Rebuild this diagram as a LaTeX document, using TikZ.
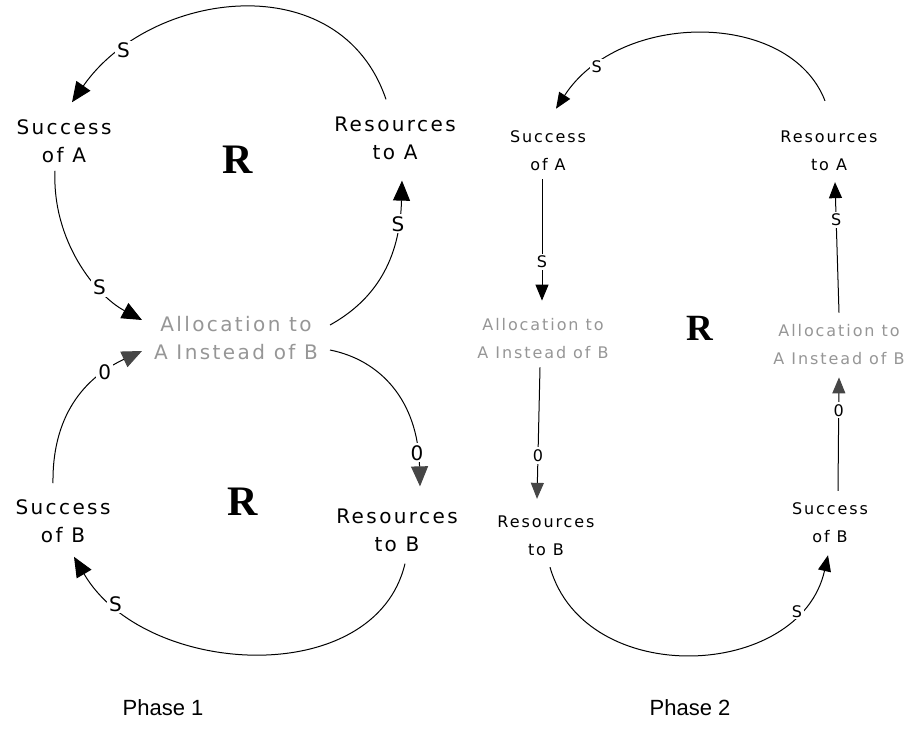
\documentclass[tikz,border=0pt]{standalone}
\usepackage{fontspec}
\usetikzlibrary{arrows.meta}
\newfontfamily\pixfont[LetterSpace=12]{DejaVu Sans}
\newfontfamily\capfont{Liberation Sans}
\newfontfamily\loopfont{Liberation Serif}
\definecolor{allocgray}{RGB}{150,150,150}
\definecolor{headgray}{RGB}{70,70,70}
\begin{document}
\begin{tikzpicture}[x=1pt,y=-1pt,
  var/.style={font=\pixfont\fontsize{20}{28}\selectfont, align=center, inner sep=0pt},
  alloc/.style={var, text=allocgray},
  varsm/.style={font=\pixfont\fontsize{16}{28}\selectfont, align=center, inner sep=0pt},
  allocsm/.style={varsm, text=allocgray},
  pol/.style={font=\pixfont\fontsize{20}{22}\selectfont, fill=white, inner sep=2pt},
  polsm/.style={font=\pixfont\fontsize{16}{18}\selectfont, fill=white, inner sep=2pt},
  loopmark/.style={font=\loopfont\bfseries\fontsize{42}{42}\selectfont, inner sep=0pt},
  loopmarksm/.style={font=\loopfont\bfseries\fontsize{37}{37}\selectfont, inner sep=0pt},
  phase/.style={font=\capfont\fontsize{22}{26}\selectfont, inner sep=0pt},
  link/.style={line width=1pt, -{Triangle[length=20pt,width=17pt]}},
  oplink/.style={line width=1pt, -{Triangle[length=20pt,width=17pt,color=headgray]}},
  linksm/.style={line width=1pt, -{Triangle[length=16pt,width=13pt]}},
  oplinksm/.style={line width=1pt, -{Triangle[length=16pt,width=13pt,color=headgray]}},
]
\useasboundingbox (0,0) rectangle (911,742);

% ---------------- Phase 1: two coupled loops ----------------
\node[var]   (sucA1)  at (64,141)  {Success\\of A};
\node[var]   (resA1)  at (395,138) {Resources\\to A};
\node[alloc] (alloc1) at (236,338) {Allocation to\\A Instead of B};
\node[var]   (sucB1)  at (63,521)  {Success\\of B};
\node[var]   (resB1)  at (397,530) {Resources\\to B};
\node[loopmark] (loopA1) at (238,160) {R};
\node[loopmark] (loopB1) at (243,502) {R};

\draw[link] ([xshift=-9pt,yshift=17pt]resA1.north)
  .. controls (340,-36) and (150,-10) .. ([xshift=8pt,yshift=17pt]sucA1.north)
  node[pol,pos=0.82] {S};
\draw[link] ([xshift=-9pt,yshift=-8pt]sucA1.south)
  .. controls (52,240) and (95,295) .. ([xshift=-94pt,yshift=18pt]alloc1.center)
  node[pol,pos=0.68] {S};
\draw[link] ([xshift=94pt,yshift=13pt]alloc1.center)
  .. controls (375,300) and (400,260) .. ([xshift=7pt,yshift=-21pt]resA1.south)
  node[pol,pos=0.8] {S};
\draw[oplink] ([xshift=94pt,yshift=-12pt]alloc1.center)
  .. controls (380,360) and (418,400) .. ([xshift=23pt,yshift=22pt]resB1.north)
  node[pol,pos=0.86] {0};
\draw[link] ([xshift=8pt,yshift=-12pt]resB1.south)
  .. controls (375,690) and (145,678) .. ([xshift=11pt,yshift=-14pt]sucB1.south)
  node[pol,pos=0.85] {S};
\draw[oplink] ([xshift=-10pt,yshift=16pt]sucB1.north)
  .. controls (52,410) and (90,375) .. ([xshift=-94pt,yshift=-13pt]alloc1.center)
  node[pol,pos=0.74] {0};

% ---------------- Phase 2: one long loop ----------------
\node[varsm]   (sucA2)   at (548,151) {Success\\of A};
\node[varsm]   (resA2)   at (829,151) {Resources\\to A};
\node[allocsm] (alloc2L) at (543,339) {Allocation to\\A Instead of B};
\node[varsm]   (resB2)   at (546,536) {Resources\\to B};
\node[varsm]   (sucB2)   at (830,523) {Success\\of B};
\node[allocsm] (alloc2R) at (839,345) {Allocation to\\A Instead of B};
\node[loopmarksm] (loop2) at (700,328) {R};

\draw[linksm] ([xshift=-4pt,yshift=30pt]resA2.north)
  .. controls (790,10) and (620,10) .. ([xshift=8pt,yshift=22pt]sucA2.north)
  node[polsm,pos=0.83] {S};
\draw[linksm] ([xshift=-6pt,yshift=-8pt]sucA2.south)
  -- ([xshift=-1pt,yshift=18pt]alloc2L.north)
  node[polsm,pos=0.68] {S};
\draw[oplinksm] ([xshift=-3pt,yshift=-8pt]alloc2L.south)
  -- ([xshift=-9pt,yshift=17pt]resB2.north)
  node[polsm,pos=0.67] {0};
\draw[linksm] ([xshift=4pt,yshift=-11pt]resB2.south)
  .. controls (585,690) and (800,680) .. ([xshift=-2pt,yshift=-12pt]sucB2.south)
  node[polsm,pos=0.82] {S};
\draw[oplinksm] ([xshift=8pt,yshift=12pt]sucB2.north)
  -- ([yshift=-12pt]alloc2R.south)
  node[polsm,pos=0.71] {0};
\draw[linksm] ([yshift=12pt]alloc2R.north)
  -- ([xshift=6pt,yshift=-11pt]resA2.south)
  node[polsm,pos=0.71] {S};

% ---------------- captions ----------------
\node[phase] (cap1) at (163,708) {Phase 1};
\node[phase] (cap2) at (690,708) {Phase 2};
\end{tikzpicture}
\end{document}
